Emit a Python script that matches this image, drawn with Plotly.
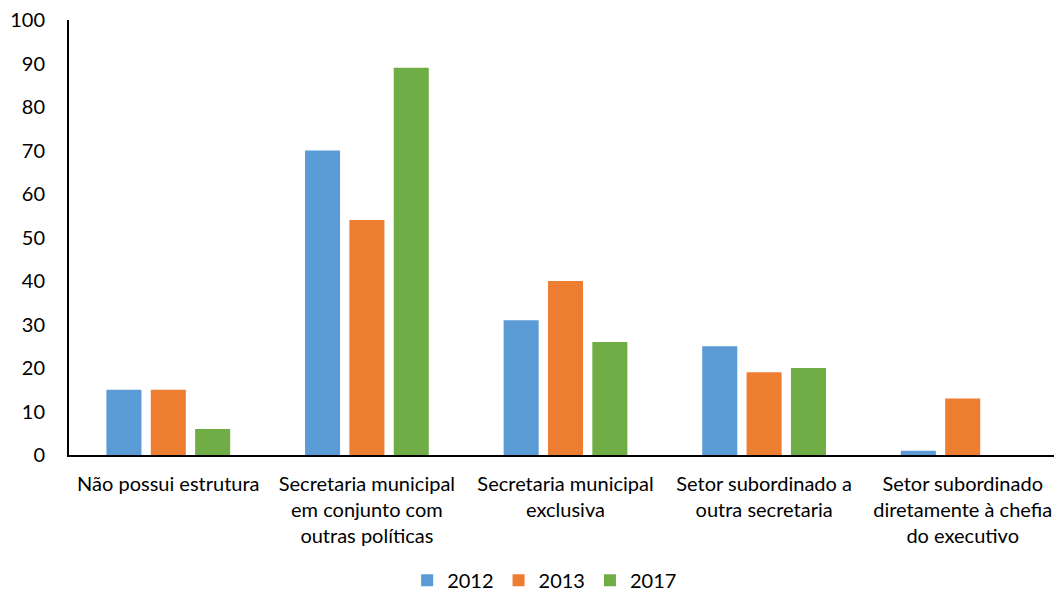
import plotly.graph_objects as go

categories = ["Não possui estrutura",
              "Secretaria municipal<br>em conjunto com<br>outras políticas",
              "Secretaria municipal<br>exclusiva",
              "Setor subordinado a<br>outra secretaria",
              "Setor subordinado<br>diretamente à chefia<br>do executivo"]
v2012 = [15, 70, 31, 25, 1]
v2013 = [15, 54, 40, 19, 13]
v2017 = [6, 89, 26, 20, 0]
series = [("2012", v2012, "#5B9BD5"), ("2013", v2013, "#ED7D31"), ("2017", v2017, "#70AD47")]

fig = go.Figure()
for name, vals, col in series:
    fig.add_trace(go.Bar(name=name, x=categories, y=vals, marker_color=col,
                         marker_line_width=0))

font = "Lato, Open Sans, sans-serif"
fig.update_layout(
    width=1054, height=586,
    margin=dict(l=61, r=0, t=12, b=139, autoexpand=False),
    plot_bgcolor="white", paper_bgcolor="white",
    barmode="group", bargap=0.33, bargroupgap=0.21,
    font=dict(family=font, size=20, color="#000000"),
    legend=dict(orientation="h", x=0.479, xanchor="center", y=-0.288, yanchor="middle",
                font=dict(size=20), traceorder="normal", itemwidth=30),
    xaxis=dict(showline=True, linecolor="black", linewidth=2, ticks="", showgrid=False,
               automargin=False, ticklabelstandoff=10, tickfont=dict(size=20)),
    yaxis=dict(range=[0, 100], dtick=10, showline=True, linecolor="black", linewidth=2,
               automargin=False, showgrid=False, ticks="", ticklabelstandoff=18,
               ticklabeloverflow="allow", tickfont=dict(size=20)),
)
fig.write_html("out.html")
